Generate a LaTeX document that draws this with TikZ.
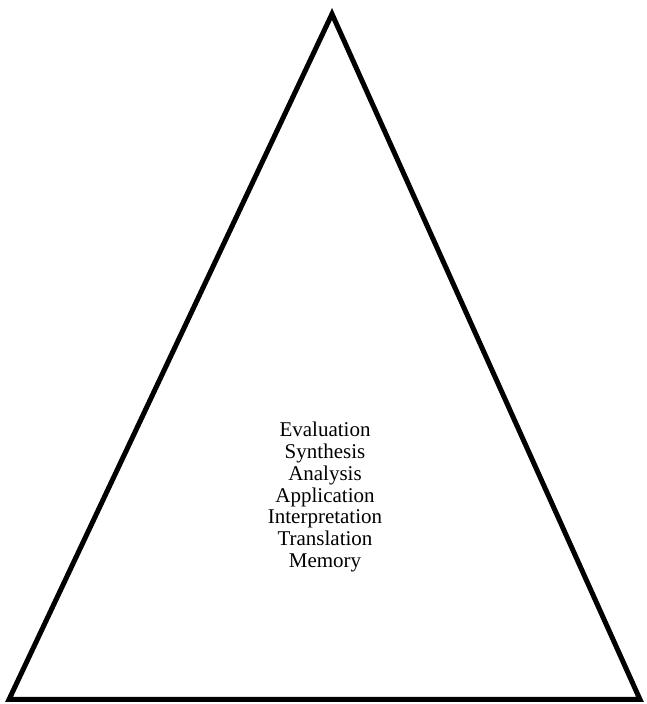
\documentclass[tikz,border=0pt]{standalone}
\usepackage{fontspec}
\setmainfont{Liberation Serif}
\usepackage{tikz}
\usetikzlibrary{calc}

\begin{document}
\begin{tikzpicture}[x=1pt,y=1pt]
\tikzstyle{pyramid}=[draw, line width=5pt, line join=miter]
\tikzstyle{levels}=[align=center, font=\fontsize{21}{21.7}\selectfont]
\useasboundingbox (0,0) rectangle (647,704);
\coordinate (left) at (9,4.5);
\coordinate (top) at (332,690);
\coordinate (right) at (640,4.5);
\draw[pyramid] (left) -- (top) -- (right) -- cycle;
\node[levels] (list) at (325,207) {Evaluation\\ Synthesis\\ Analysis\\ Application\\ Interpretation\\ Translation\\ Memory};
\end{tikzpicture}
\end{document}
